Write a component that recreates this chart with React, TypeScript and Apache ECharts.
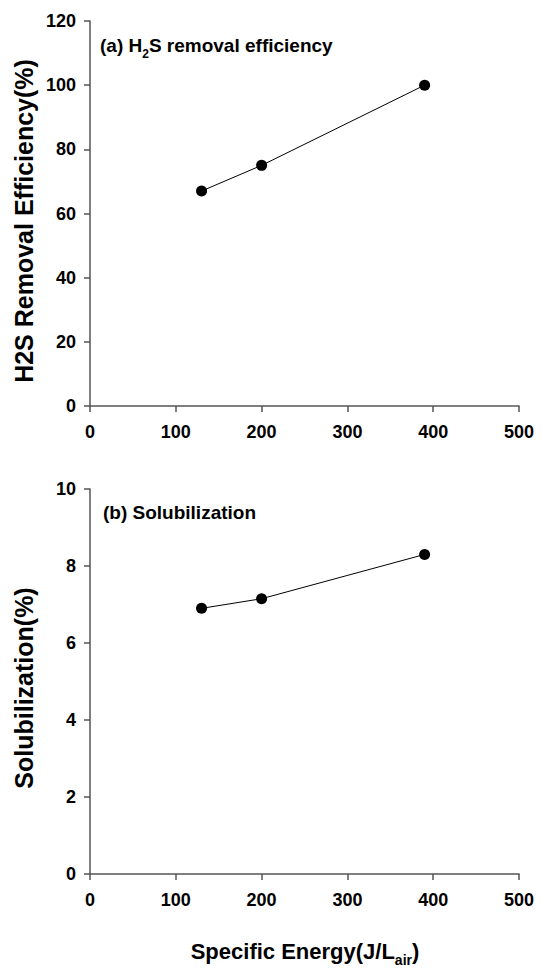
import React, { useEffect, useRef } from "react";
import * as echarts from "echarts";

const energyX = [130, 200, 390];
const h2sRemoval = [67, 75, 100];
const solubilization = [6.9, 7.15, 8.3];
const xTicks = [0, 100, 200, 300, 400, 500];
const topYTicks = [0, 20, 40, 60, 80, 100, 120];
const bottomYTicks = [0, 2, 4, 6, 8, 10];

const FONT = "'Liberation Sans', Arial, sans-serif";
const AXIS_COLOR = "#555555";

export default function App() {
  const ref = useRef<HTMLDivElement>(null);
  useEffect(() => {
    if (!ref.current) return;
    const chart = echarts.init(ref.current, null, { renderer: "svg" });
    const axisCommon = {
      axisLine: { show: true, lineStyle: { color: AXIS_COLOR, width: 1.5 } },
      axisTick: { show: true, inside: false, length: 6, lineStyle: { color: AXIS_COLOR, width: 1.5 } },
      splitLine: { show: false },
      axisLabel: { color: "#000", fontFamily: FONT, fontWeight: "bold", fontSize: 18, margin: 14 },
    };
    const xAxisFor = (gridIndex: number) => ({
      ...axisCommon,
      type: "value",
      gridIndex,
      min: xTicks[0],
      max: xTicks[xTicks.length - 1],
      interval: xTicks[1] - xTicks[0],
      axisLabel: { ...axisCommon.axisLabel, margin: 17 },
    });
    const pairs = energyX.map((x, i) => [x, h2sRemoval[i]]);
    const pairs2 = energyX.map((x, i) => [x, solubilization[i]]);
    chart.setOption({
      animation: false,
      backgroundColor: "#ffffff",
      grid: [
        { left: 90, width: 429, top: 21, height: 385 },
        { left: 90, width: 429, top: 489, height: 385 },
      ],
      xAxis: [xAxisFor(0), xAxisFor(1)],
      yAxis: [
        {
          ...axisCommon,
          type: "value",
          gridIndex: 0,
          min: topYTicks[0],
          max: topYTicks[topYTicks.length - 1],
          interval: topYTicks[1] - topYTicks[0],
        },
        {
          ...axisCommon,
          type: "value",
          gridIndex: 1,
          min: bottomYTicks[0],
          max: bottomYTicks[bottomYTicks.length - 1],
          interval: bottomYTicks[1] - bottomYTicks[0],
        },
      ],
      series: [
        {
          type: "line",
          xAxisIndex: 0,
          yAxisIndex: 0,
          data: pairs,
          symbol: "circle",
          symbolSize: 11,
          itemStyle: { color: "#000" },
          lineStyle: { color: "#000", width: 1 },
        },
        {
          type: "line",
          xAxisIndex: 1,
          yAxisIndex: 1,
          data: pairs2,
          symbol: "circle",
          symbolSize: 11,
          itemStyle: { color: "#000" },
          lineStyle: { color: "#000", width: 1 },
        },
      ],
      graphic: [
        {
          type: "text",
          x: 24,
          y: 221,
          rotation: Math.PI / 2,
          style: {
            text: "H2S Removal Efficiency(%)",
            fontFamily: FONT,
            fontWeight: "bold",
            fontSize: 25,
            fill: "#000",
            align: "center",
            verticalAlign: "middle",
          },
        },
        {
          type: "text",
          x: 24,
          y: 688,
          rotation: Math.PI / 2,
          style: {
            text: "Solubilization(%)",
            fontFamily: FONT,
            fontWeight: "bold",
            fontSize: 25,
            fill: "#000",
            align: "center",
            verticalAlign: "middle",
          },
        },
        {
          type: "text",
          x: 100,
          y: 36,
          style: {
            text: "{n|(a) H}{s|2}{n|S removal efficiency}",
            fontFamily: FONT,
            fill: "#000",
            rich: {
              n: { fontFamily: FONT, fontWeight: "bold", fontSize: 19, lineHeight: 24, fill: "#000", verticalAlign: "top" },
              s: { fontFamily: FONT, fontWeight: "bold", fontSize: 12, lineHeight: 12, fill: "#000", verticalAlign: "bottom" },
            },
          },
        },
        {
          type: "text",
          x: 103,
          y: 503,
          style: {
            text: "(b) Solubilization",
            fontFamily: FONT,
            fontWeight: "bold",
            fontSize: 19,
            fill: "#000",
          },
        },
        {
          type: "text",
          x: 305,
          y: 940,
          style: {
            text: "{n|Specific Energy(J/L}{s|air}{n|)}",
            align: "center",
            fontFamily: FONT,
            fill: "#000",
            rich: {
              n: { fontFamily: FONT, fontWeight: "bold", fontSize: 22, lineHeight: 27, fill: "#000", verticalAlign: "top" },
              s: { fontFamily: FONT, fontWeight: "bold", fontSize: 14, lineHeight: 14, fill: "#000", verticalAlign: "bottom" },
            },
          },
        },
      ],
    });
    return () => chart.dispose();
  }, []);
  return (
    <div
      ref={ref}
      style={{ position: "absolute", left: 0, top: 0, width: 542, height: 969, background: "#fff" }}
    />
  );
}
